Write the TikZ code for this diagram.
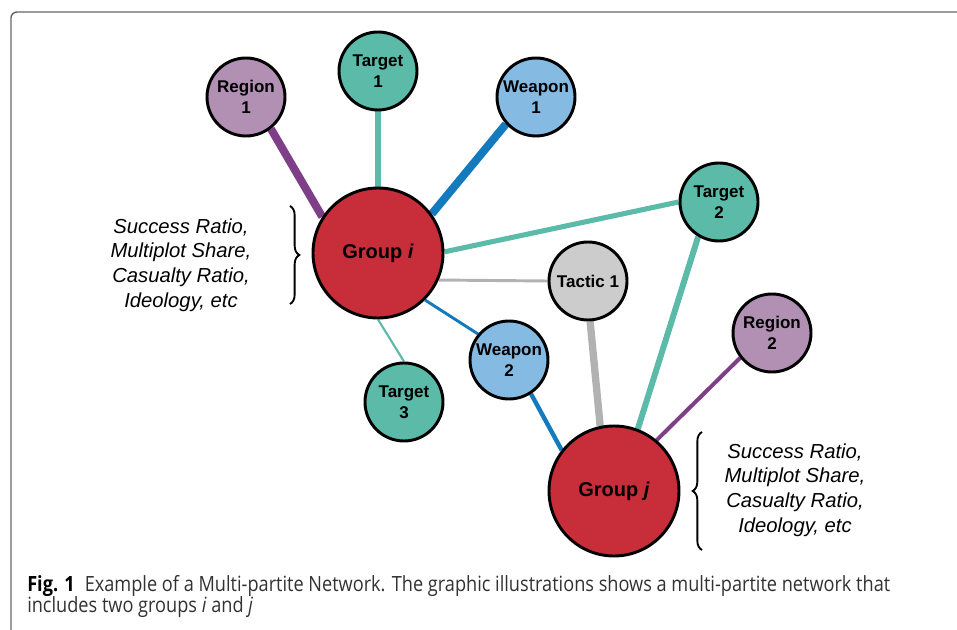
\documentclass[tikz,border=0pt]{standalone}
\usepackage{fontspec}
\setmainfont{Liberation Sans}
\newfontfamily\capfont{Open Sans}
\usetikzlibrary{backgrounds,decorations.pathreplacing}
\definecolor{gred}{RGB}{200,45,58}
\definecolor{tealf}{RGB}{92,186,168}
\definecolor{purf}{RGB}{177,144,180}
\definecolor{pure}{RGB}{127,63,136}
\definecolor{bluef}{RGB}{133,186,227}
\definecolor{bluee}{RGB}{20,122,190}
\definecolor{grayf}{RGB}{204,204,204}
\definecolor{graye}{RGB}{178,178,178}
\definecolor{capgray}{RGB}{50,50,50}
\newsavebox\capbox
\newcommand\capsize{\fontsize{15.75pt}{19pt}\capfont}
\newcommand\capgap{\hspace{0.55em}}
\begin{document}
\sbox\capbox{\capsize\textbf{Fig. 1}\capgap Example of a Multi-partite Network. The graphic illustrations shows a multi-partite network that}%
\pgfmathsetmacro\capscale{647.25/\wd\capbox}%
\begin{tikzpicture}[x=0.75pt,y=-0.75pt,
  small/.style={circle,draw=black,line width=2.2pt,inner sep=0pt,minimum size=58.5pt,
    font=\fontsize{12.75pt}{15.5pt}\selectfont\bfseries,align=center},
  big/.style={circle,draw=black,line width=2.2pt,inner sep=0pt,minimum size=97.5pt,fill=gred,
    font=\fontsize{15pt}{18pt}\selectfont\bfseries},
  attr/.style={align=center,font=\fontsize{15.2pt}{18.4pt}\selectfont\itshape},
  edge/.style={line cap=butt}]
\useasboundingbox (0,0) rectangle (957,630);
\draw[line width=1.1pt,color=black!60,rounded corners=4.5pt] (11,632) -- (11,12) -- (959,12);

\node[small,fill=purf] (r1) at (246,97) {Region\\1};
\node[small,fill=tealf] (t1) at (378,71) {Target\\1};
\node[small,fill=bluef] (w1) at (536,97) {Weapon\\1};
\node[big] (gi) at (378,253) {Group \textit{i}};
\node[small,fill=tealf] (t2) at (719,202) {Target\\2};
\node[small,fill=grayf] (tac) at (588,281) {Tactic 1};
\node[small,fill=purf] (r2) at (772,333) {Region\\2};
\node[small,fill=bluef] (w2) at (509,360) {Weapon\\2};
\node[small,fill=tealf] (t3) at (404,402) {Target\\3};
\node[big] (gj) at (614,491) {Group \textit{j}};

\begin{pgfonlayer}{background}
\draw[edge,pure,line width=6pt] (r1.-52) -- (gi.147);
\draw[edge,tealf,line width=3.8pt] (t1.south) -- (gi.north);
\draw[edge,bluee,line width=6pt] (w1.-138) -- (gi.36);
\draw[edge,tealf,line width=3.8pt] (gi.1) -- (t2.west);
\draw[edge,graye,line width=2.2pt] (gi.-24) -- (tac.west);
\draw[edge,bluee,line width=2.2pt] (gi.-45) -- (w2.140);
\draw[edge,tealf,line width=1.6pt] (gi.south) -- (t3.north);
\draw[edge,graye,line width=5.5pt] (tac.-87) -- (gj.102);
\draw[edge,tealf,line width=4.5pt] (t2.-121) -- (gj.69);
\draw[edge,pure,line width=3pt] (r2.-142) -- (gj.50);
\draw[edge,bluee,line width=3.3pt] (w2.-57) -- (gj.142);
\end{pgfonlayer}

\node[attr] (la) at (181,265) {Success Ratio,\\Multiplot Share,\\Casualty Ratio,\\Ideology, etc};
\node[attr] (ra) at (795,490) {Success Ratio,\\Multiplot Share,\\Casualty Ratio,\\Ideology, etc};
\coordinate (lbt) at (290,206);
\coordinate (lbb) at (290,304);
\coordinate (rbt) at (702,432);
\coordinate (rbb) at (702,550);
\draw[line width=1.4pt,decorate,decoration={brace,amplitude=7pt}] (lbt) -- (lbb);
\draw[line width=1.4pt,decorate,decoration={brace,amplitude=7pt}] (rbb) -- (rbt);

\node[anchor=base west,inner sep=0pt,text=capgray] (cap1) at (27,592)
  {\scalebox{\capscale}[1]{\capsize\textcolor{black}{\textbf{Fig. 1}}\capgap Example of a Multi-partite Network. The graphic illustrations shows a multi-partite network that}};
\node[anchor=base west,inner sep=0pt,text=capgray] (cap2) at (27,613)
  {\scalebox{\capscale}[1]{\capsize includes two groups \textit{i} and \textit{j}}};
\end{tikzpicture}
\end{document}
